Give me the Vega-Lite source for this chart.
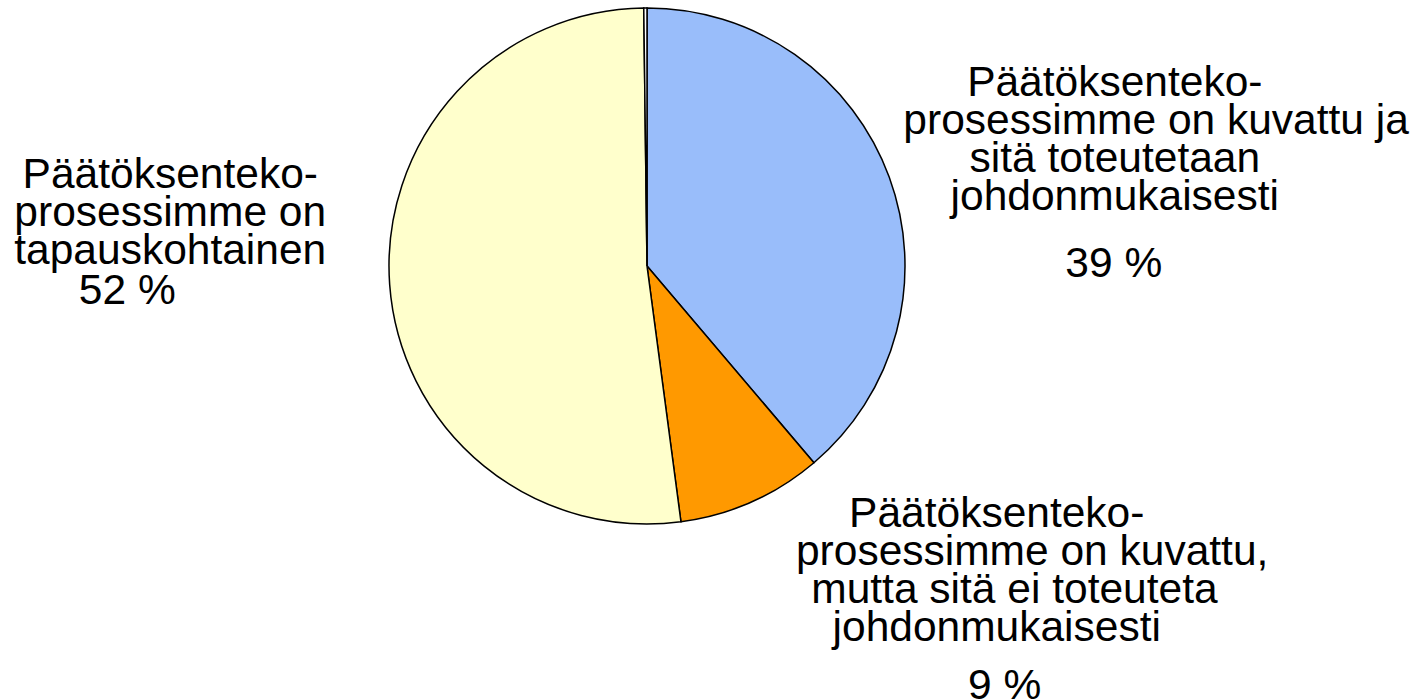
{
  "$schema": "https://vega.github.io/schema/vega-lite/v6.json",
  "autosize": {"type": "none"},
  "width": 1294,
  "height": 532,
  "padding": {"left": 0, "top": 0, "right": 124, "bottom": 168},
  "background": "white",
  "config": {"view": {"stroke": null}, "font": "Liberation Sans"},
  "data": {
    "values": [
      {"kategoria": "kuvattu ja toteutetaan", "osuus": 38.8, "idx": 1, "label": "Päätöksenteko-\n\u200b\u00a0\u00a0\u00a0\u00a0\u00a0\u00a0\u00a0prosessimme on kuvattu ja\nsitä toteutetaan\njohdonmukaisesti", "pct": "39 %"},
      {"kategoria": "kuvattu, ei toteuteta", "osuus": 9.1, "idx": 2, "label": "Päätöksenteko-\n\u200b\u00a0\u00a0\u00a0\u00a0\u00a0\u00a0prosessimme on kuvattu,\n\u200b\u00a0\u00a0\u00a0mutta sitä ei toteuteta\njohdonmukaisesti", "pct": "9 %"},
      {"kategoria": "tapauskohtainen", "osuus": 51.9, "idx": 3, "label": "Päätöksenteko-\nprosessimme on\ntapauskohtainen", "pct": "52 %"},
      {"kategoria": "muu", "osuus": 0.2, "idx": 4, "label": "", "pct": ""}
    ]
  },
  "encoding": {
    "theta": {"field": "osuus", "type": "quantitative", "stack": true},
    "order": {"field": "idx", "type": "quantitative"}
  },
  "layer": [
    {
      "mark": {"type": "arc", "outerRadius": 258, "stroke": "black", "strokeWidth": 1.5},
      "encoding": {
        "color": {
          "field": "kategoria",
          "type": "nominal",
          "scale": {
            "domain": ["kuvattu ja toteutetaan", "kuvattu, ei toteuteta", "tapauskohtainen", "muu"],
            "range": ["#99bdfa", "#ff9900", "#ffffcc", "#ffffff"]
          },
          "legend": null
        }
      }
    },
    {
      "mark": {"type": "text", "radius": 493, "dx": 5, "align": "center", "baseline": "alphabetic", "fontSize": 42.5, "lineHeight": 38, "lineBreak": "\n", "color": "black"},
      "encoding": {"text": {"condition": {"test": "datum.idx == 1", "field": "label"}, "value": ""}}
    },
    {
      "mark": {"type": "text", "radius": 493, "dx": 4, "dy": 181, "align": "center", "baseline": "alphabetic", "fontSize": 42.5, "color": "black"},
      "encoding": {"text": {"condition": {"test": "datum.idx == 1", "field": "pct"}, "value": ""}}
    },
    {
      "mark": {"type": "text", "radius": 300, "dx": 228, "dy": -13, "align": "center", "baseline": "alphabetic", "fontSize": 42.5, "lineHeight": 38, "lineBreak": "\n", "color": "black"},
      "encoding": {"text": {"condition": {"test": "datum.idx == 2", "field": "label"}, "value": ""}}
    },
    {
      "mark": {"type": "text", "radius": 300, "dx": 236, "dy": 159, "align": "center", "baseline": "alphabetic", "fontSize": 42.5, "color": "black"},
      "encoding": {"text": {"condition": {"test": "datum.idx == 2", "field": "pct"}, "value": ""}}
    },
    {
      "mark": {"type": "text", "radius": 480, "dx": 2, "dy": -113, "align": "center", "baseline": "alphabetic", "fontSize": 42.5, "lineHeight": 38, "lineBreak": "\n", "color": "black"},
      "encoding": {"text": {"condition": {"test": "datum.idx == 3", "field": "label"}, "value": ""}}
    },
    {
      "mark": {"type": "text", "radius": 480, "dx": -41, "dy": 3, "align": "center", "baseline": "alphabetic", "fontSize": 42.5, "color": "black"},
      "encoding": {"text": {"condition": {"test": "datum.idx == 3", "field": "pct"}, "value": ""}}
    }
  ]
}
